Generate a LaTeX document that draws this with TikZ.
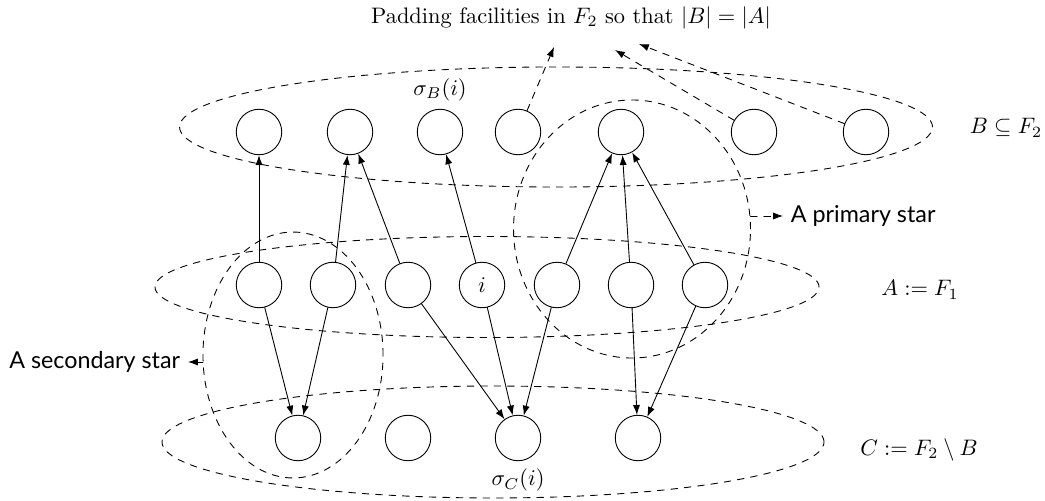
\documentclass[tikz,border=0pt]{standalone}
\usepackage{fontspec}
\usetikzlibrary{shapes.geometric,arrows.meta}
\newfontfamily\starfont{Lato}

\begin{document}
\begin{tikzpicture}[x=0.4465pt,y=-0.4465pt, line cap=round, line join=round]

\tikzset{
  fac/.style={draw, circle, minimum size=20.3pt, inner sep=0pt},
  grp/.style={draw, dashed, ellipse, inner sep=0pt, outer sep=0pt},
  link/.style={-{Latex[length=4.4pt,width=3.2pt]}},
  pad/.style={dashed, -{Latex[length=4.4pt,width=3.2pt]}},
  starlbl/.style={font=\starfont\fontsize{10.4}{12}\selectfont}
}

\useasboundingbox (0,0) rectangle (1045,501);

% the three sets
\node[grp, minimum width=336.2pt, minimum height=53.6pt] (setB) at (556,127) {};
\node[grp, minimum width=296.5pt, minimum height=45.1pt] (setA) at (487,287) {};
\node[grp, minimum width=295.6pt, minimum height=50pt] (setC) at (493,442) {};

% the two stars
\node[grp, minimum width=105.8pt, minimum height=115.2pt] (prim) at (632,229) {};
\node[grp, minimum width=80.4pt, minimum height=109.8pt] (sec) at (293,355) {};

% facilities in B
\node[fac] (b1) at (259,132) {};
\node[fac] (b2) at (350,132) {};
\node[fac, label={above:$\sigma_B(i)$}] (b3) at (440,132) {};
\node[fac] (b4) at (518,132) {};
\node[fac] (b5) at (621,132) {};
\node[fac] (b6) at (754,132) {};
\node[fac] (b7) at (866,132) {};

% facilities in A
\node[fac] (a1) at (259,285) {};
\node[fac] (a2) at (333,285) {};
\node[fac] (a3) at (408,285) {};
\node[fac] (a4) at (482,285) {$i$};
\node[fac] (a5) at (557,285) {};
\node[fac] (a6) at (631,285) {};
\node[fac] (a7) at (705,285) {};

% facilities in C
\node[fac] (c1) at (298,438) {};
\node[fac] (c2) at (408,438) {};
\node[fac, label={below:$\sigma_C(i)$}] (c3) at (518,438) {};
\node[fac] (c4) at (638,438) {};

% set names
\node (nameB) at (1006,128) {$B \subseteq F_2$};
\node (nameA) at (920,290) {$A := F_1$};
\node (nameC) at (919,450) {$C := F_2 \setminus B$};

% padding
\node (title) at (571,18) {Padding facilities in $F_2$ so that $|B| = |A|$};
\coordinate (p1) at (554,47);
\coordinate (p2) at (615,50);
\coordinate (p3) at (639,44);
\draw[pad] (b4) -- (p1);
\draw[pad] (b6) -- (p2);
\draw[pad] (b7) -- (p3);

% A to B
\draw[link] (a1) -- (b1);
\draw[link] (a2) -- (b2);
\draw[link] (a3) -- (b2);
\draw[link] (a4) -- (b3);
\draw[link] (a5) -- (b5);
\draw[link] (a6) -- (b5);
\draw[link] (a7) -- (b5);

% A to C
\draw[link] (a1) -- (c1);
\draw[link] (a2) -- (c1);
\draw[link] (a3) -- (c3);
\draw[link] (a4) -- (c3);
\draw[link] (a5) -- (c3);
\draw[link] (a6) -- (c4);
\draw[link] (a7) -- (c4);

% star labels
\node[starlbl, anchor=west] (primlbl) at (783,216) {A primary star};
\node[starlbl, anchor=east] (seclbl) at (188,362) {A secondary star};
\draw[pad] (prim.east |- primlbl.west) -- (primlbl.west);
\draw[pad] (sec.west |- seclbl.east) -- (seclbl.east);

\end{tikzpicture}
\end{document}
